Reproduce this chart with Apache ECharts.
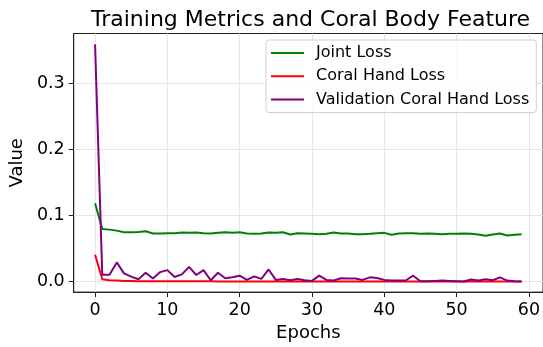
<!DOCTYPE html>
<html>
<head>
<meta charset="utf-8">
<script src="https://cdn.jsdelivr.net/npm/echarts@6/dist/echarts.min.js"></script>
<style>
  html, body { margin: 0; padding: 0; background: #fff; }
  #chart { width: 543px; height: 347px; }
</style>
</head>
<body>
<div id="chart"></div>
<script>
// Epochs 0..59
const epochs = [];
for (let i = 0; i < 60; i++) epochs.push(i);

const jointLoss = [
  0.1188, 0.0797, 0.0787, 0.0772, 0.0748, 0.0748, 0.0752, 0.0762, 0.0728, 0.0728,
  0.0733, 0.0733, 0.0743, 0.0738, 0.0743, 0.0733, 0.0728, 0.0738, 0.0748, 0.0738,
  0.0748, 0.0728, 0.0723, 0.0728, 0.0743, 0.0738, 0.0748, 0.0713, 0.0733, 0.0728,
  0.0723, 0.0718, 0.0723, 0.0743, 0.0728, 0.0728, 0.0718, 0.0718, 0.0723, 0.0733,
  0.0738, 0.0708, 0.0728, 0.0733, 0.0733, 0.0723, 0.0728, 0.0723, 0.0718, 0.0723,
  0.0723, 0.0728, 0.0723, 0.0713, 0.0693, 0.0713, 0.0728, 0.0698, 0.0708, 0.0718
];

const coralHandLoss = [
  0.0406, 0.0035, 0.0020, 0.0015, 0.0010, 0.0008, 0.0006, 0.0005, 0.0005, 0.0004,
  0.0004, 0.0004, 0.0003, 0.0003, 0.0003, 0.0003, 0.0003, 0.0002, 0.0002, 0.0002,
  0.0002, 0.0002, 0.0002, 0.0002, 0.0002, 0.0002, 0.0002, 0.0001, 0.0001, 0.0001,
  0.0001, 0.0001, 0.0001, 0.0001, 0.0001, 0.0001, 0.0001, 0.0001, 0.0001, 0.0001,
  0.0001, 0.0001, 0.0001, 0.0001, 0.0001, 0.0001, 0.0001, 0.0001, 0.0001, 0.0001,
  0.0001, 0.0001, 0.0001, 0.0001, 0.0001, 0.0001, 0.0001, 0.0001, 0.0001, 0.0001
];

const valCoralHandLoss = [
  0.3595, 0.0104, 0.0104, 0.0290, 0.0124, 0.0074, 0.0035, 0.0134, 0.0045, 0.0143,
  0.0173, 0.0069, 0.0109, 0.0223, 0.0099, 0.0173, 0.0020, 0.0134, 0.0049, 0.0064,
  0.0089, 0.0025, 0.0079, 0.0040, 0.0183, 0.0025, 0.0040, 0.0020, 0.0040, 0.0020,
  0.0010, 0.0089, 0.0025, 0.0015, 0.0050, 0.0045, 0.0045, 0.0025, 0.0064, 0.0054,
  0.0025, 0.0015, 0.0015, 0.0020, 0.0089, 0.0005, 0.0005, 0.0010, 0.0015, 0.0010,
  0.0005, 0.0000, 0.0030, 0.0015, 0.0035, 0.0020, 0.0064, 0.0015, 0.0005, 0.0000
];

const xTicks = [0, 10, 20, 30, 40, 50, 60];
const yTicks = [0, 0.1, 0.2, 0.3];

const FONT = "DejaVu Sans";

function pairs(values) {
  return values.map((v, i) => [epochs[i], v]);
}

let chart = echarts.init(document.getElementById("chart"), null, { renderer: "canvas" });

let option = {
  animation: false,
  backgroundColor: "#ffffff",
  title: {
    text: "Training Metrics and Coral Body Feature",
    left: 86,
    top: 4,
    textStyle: { fontFamily: FONT, fontSize: 22, fontWeight: "normal", color: "#000" },
  },
  grid: {
    left: 72.5, top: 33.5, width: 472, height: 262.5,
    show: true, borderColor: "#222", borderWidth: 1, backgroundColor: "transparent",
  },
  legend: {
    orient: "vertical",
    left: 266,
    top: 40,
    padding: [5, 7, 5, 5],
    icon: "rect",
    itemWidth: 33,
    itemHeight: 2,
    itemGap: 7.3,
    backgroundColor: "rgba(255,255,255,0.8)",
    borderColor: "#d0d0d0",
    borderWidth: 1,
    borderRadius: 3,
    textStyle: { fontFamily: FONT, fontSize: 16, lineHeight: 16, color: "#000", padding: [0, 0, 0, 7] },
    data: ["Joint Loss", "Coral Hand Loss", "Validation Coral Hand Loss"],
  },
  xAxis: {
    type: "value",
    min: -2.95,
    max: 61.95,
    name: "Epochs",
    nameLocation: "middle",
    nameGap: 24,
    nameTextStyle: { fontFamily: FONT, fontSize: 18, color: "#000" },
    axisLine: { onZero: false, lineStyle: { color: "#222", width: 1 } },
    axisTick: { show: true, length: 5, customValues: xTicks, lineStyle: { color: "#222" } },
    axisLabel: { customValues: xTicks, margin: 9, fontFamily: FONT, fontSize: 17.5, color: "#000" },
    splitLine: { show: true, lineStyle: { color: "#e6e6e6", width: 1 } },
  },
  yAxis: {
    type: "value",
    min: -0.016,
    max: 0.376,
    name: "Value",
    nameLocation: "middle",
    nameGap: 45,
    nameTextStyle: { fontFamily: FONT, fontSize: 18, color: "#000" },
    axisLine: { show: true, onZero: false, lineStyle: { color: "#222", width: 1 } },
    axisTick: { show: true, length: 5, customValues: yTicks, lineStyle: { color: "#222" } },
    axisLabel: {
      customValues: yTicks,
      margin: 9,
      fontFamily: FONT,
      fontSize: 17.5,
      color: "#000",
      formatter: (v) => v.toFixed(1),
    },
    splitLine: { show: true, lineStyle: { color: "#e6e6e6", width: 1 } },
  },
  series: [
    {
      name: "Joint Loss",
      type: "line",
      symbol: "none",
      color: "#008000",
      lineStyle: { width: 2, color: "#008000" },
      data: pairs(jointLoss),
      z: 2,
    },
    {
      name: "Coral Hand Loss",
      type: "line",
      symbol: "none",
      color: "#ff0000",
      lineStyle: { width: 2, color: "#ff0000" },
      data: pairs(coralHandLoss),
      z: 3,
    },
    {
      name: "Validation Coral Hand Loss",
      type: "line",
      symbol: "none",
      color: "#800080",
      lineStyle: { width: 2, color: "#800080" },
      data: pairs(valCoralHandLoss),
      z: 4,
    },
  ],
};

chart.setOption(option);
</script>
</body>
</html>
